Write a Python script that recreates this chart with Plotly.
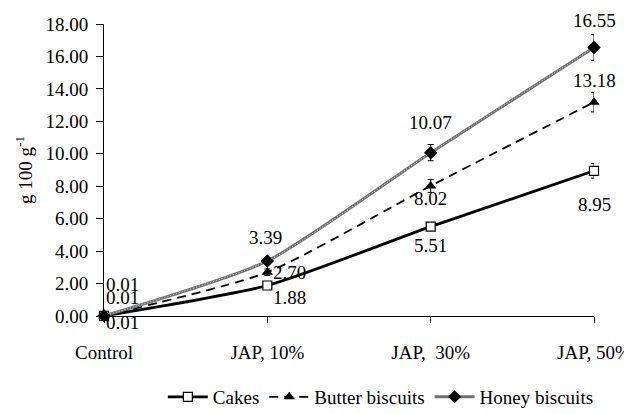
import plotly.graph_objects as go

categories = ["Control", "JAP, 10%", "JAP,  30%", "JAP, 50%"]
cakes = [0.01, 1.88, 5.51, 8.95]
butter = [0.01, 2.70, 8.02, 13.18]
honey = [0.01, 3.39, 10.07, 16.55]
cakes_err = [0.05, 0.1, 0.2, 0.45]
butter_err = [0.05, 0.2, 0.4, 0.6]
honey_err = [0.05, 0.2, 0.5, 0.8]
y_ticks = [0, 2, 4, 6, 8, 10, 12, 14, 16, 18]

xpos = list(range(len(categories)))
FONT = "Liberation Serif"
FS = 19

fig = go.Figure()

def err(arr):
    return dict(type="data", array=arr, visible=True, color="black", thickness=1, width=3)

fig.add_trace(go.Scatter(
    x=xpos, y=cakes, name="Cakes", mode="lines+markers", cliponaxis=False,
    line=dict(color="black", width=2.8, shape="spline", smoothing=0.6),
    marker=dict(symbol="square", size=9, color="white", line=dict(color="black", width=1.2)),
    error_y=err(cakes_err)))
fig.add_trace(go.Scatter(
    x=xpos, y=butter, name="Butter biscuits", mode="lines+markers", cliponaxis=False,
    line=dict(color="black", width=1.8, dash="9px,6px", shape="spline", smoothing=0.6),
    marker=dict(symbol="triangle-up", size=10, color="black"),
    error_y=err(butter_err)))
fig.add_trace(go.Scatter(
    x=xpos, y=honey, name="Honey biscuits", mode="lines+markers", cliponaxis=False,
    line=dict(color="#707070", width=3.0, shape="spline", smoothing=0.6),
    marker=dict(symbol="diamond", size=10, color="black"),
    error_y=err(honey_err)))
fig.add_trace(go.Scatter(
    x=xpos, y=honey, mode="lines", showlegend=False, hoverinfo="skip", cliponaxis=False,
    line=dict(color="#e0e0e0", width=1, dash="1px,2px", shape="spline", smoothing=0.6)))
fig.add_trace(go.Scatter(
    x=xpos, y=honey, mode="markers", showlegend=False, hoverinfo="skip", cliponaxis=False,
    marker=dict(symbol="diamond", size=10, color="black")))

# label offsets (px): (xshift, yshift) per point
cakes_off = [(18, -7), (22, -12), (0, -19), (0, -34)]
butter_off = [(18, 18), (22, 0), (0, -13), (0, 22)]
honey_off = [(18, 31), (-2, 24), (0, 30), (0, 27)]

for vals, offs in [(cakes, cakes_off), (butter, butter_off), (honey, honey_off)]:
    for i, v in enumerate(vals):
        fig.add_annotation(x=xpos[i], y=v, text=f"{v:.2f}", showarrow=False,
                           xshift=offs[i][0], yshift=offs[i][1],
                           font=dict(family=FONT, size=FS, color="black"))

fig.update_layout(
    width=624, height=406,
    margin=dict(l=96, r=38, t=16, b=98, autoexpand=False),
    paper_bgcolor="white", plot_bgcolor="white",
    font=dict(family=FONT, size=FS, color="black"),
    showlegend=True,
    legend=dict(orientation="h", x=0.565, xanchor="center", yref="container",
                y=0.042, yanchor="middle",
                font=dict(family=FONT, size=FS), itemwidth=40, tracegroupgap=0,
                bgcolor="rgba(0,0,0,0)"),
    xaxis=dict(range=[0, 3], tickvals=xpos, ticktext=categories, showgrid=False,
               zeroline=False, showline=True, linecolor="black", linewidth=1,
               ticks="outside", ticklen=6, tickcolor="black", ticklabelstandoff=13,
               ticklabeloverflow="allow",
               automargin=False, tickfont=dict(family=FONT, size=FS)),
    yaxis=dict(range=[0, 18], tickvals=y_ticks, ticktext=[f"{t:.2f}" for t in y_ticks],
               showgrid=False, zeroline=False, showline=True, linecolor="black",
               linewidth=1, ticks="outside", ticklen=7, tickcolor="black",
               ticklabelstandoff=4, automargin=False, tickfont=dict(family=FONT, size=FS),
               title=dict(text="g 100 g<sup>-1</sup>", standoff=7,
                          font=dict(family=FONT, size=FS))),
)

fig.write_html("out.html")
